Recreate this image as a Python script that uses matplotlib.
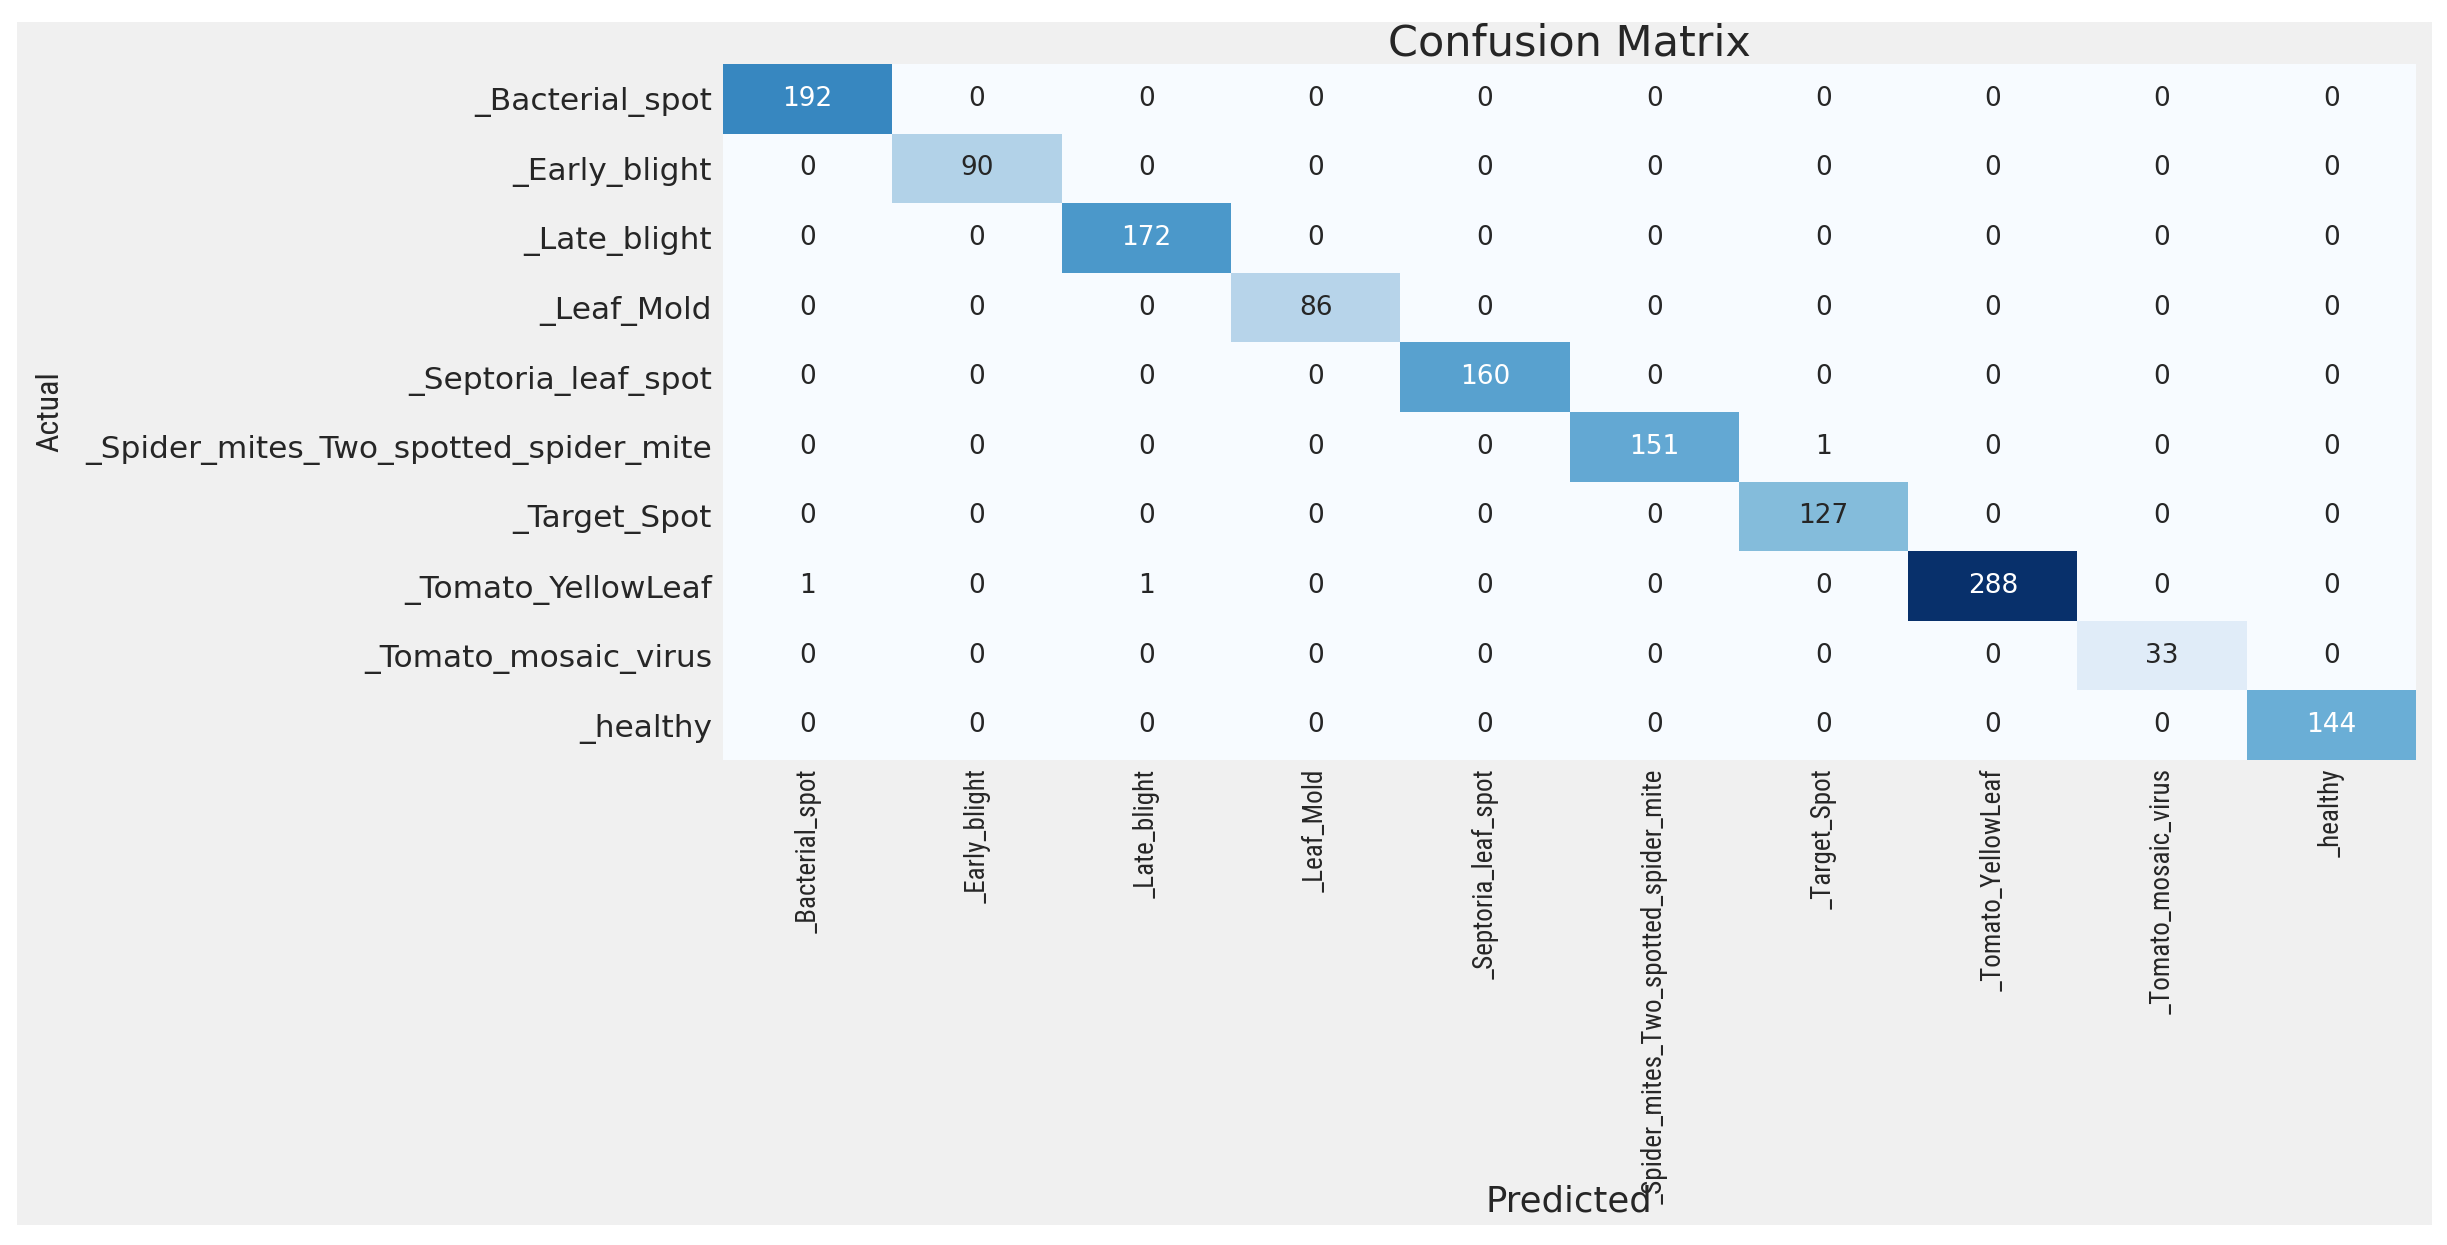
import numpy as np
import matplotlib
matplotlib.use('Agg')
import matplotlib.pyplot as plt
from matplotlib.patches import Rectangle
from matplotlib import colors as mcolors
from matplotlib import font_manager as fm

classes = ['_Bacterial_spot', '_Early_blight', '_Late_blight', '_Leaf_Mold',
           '_Septoria_leaf_spot', '_Spider_mites_Two_spotted_spider_mite',
           '_Target_Spot', '_Tomato_YellowLeaf', '_Tomato_mosaic_virus', '_healthy']

counts = [
    [192, 0, 0, 0, 0, 0, 0, 0, 0, 0],
    [0, 90, 0, 0, 0, 0, 0, 0, 0, 0],
    [0, 0, 172, 0, 0, 0, 0, 0, 0, 0],
    [0, 0, 0, 86, 0, 0, 0, 0, 0, 0],
    [0, 0, 0, 0, 160, 0, 0, 0, 0, 0],
    [0, 0, 0, 0, 0, 151, 1, 0, 0, 0],
    [0, 0, 0, 0, 0, 0, 127, 0, 0, 0],
    [1, 0, 1, 0, 0, 0, 0, 288, 0, 0],
    [0, 0, 0, 0, 0, 0, 0, 0, 33, 0],
    [0, 0, 0, 0, 0, 0, 0, 0, 0, 144],
]

title = 'Confusion Matrix'
xlabel = 'Predicted'
ylabel = 'Actual'

# look for an installed narrow / condensed sans font
narrow = None
cands = []
for f in fm.fontManager.ttflist:
    nm = (f.name + ' ' + str(f.fname)).lower()
    st = str(f.stretch).lower()
    if ('narrow' in nm or 'condensed' in nm or 'condensed' in st) and 'italic' not in nm \
            and 'oblique' not in nm and 'bold' not in nm and f.style == 'normal' and f.weight in (400, 'normal'):
        cands.append(f)
pref = ['liberation sans narrow', 'roboto condensed', 'open sans condensed', 'noto sans condensed', 'dejavu']
for p in pref:
    for f in cands:
        if p in (f.name + ' ' + str(f.fname)).lower():
            narrow = f.fname
            break
    if narrow:
        break
if narrow is None and cands:
    narrow = cands[0].fname

def nfont(size):
    if narrow:
        return fm.FontProperties(fname=narrow, size=size)
    return fm.FontProperties(family='DejaVu Sans', size=size)

cm = np.array(counts)
W, H = 2447, 1245
fig = plt.figure(figsize=(W / 100, H / 100), dpi=100, facecolor='white')

# grey panel behind everything
fig.patches.append(Rectangle((17 / W, 1 - 1225 / H), (2432 - 17) / W, (1225 - 22) / H,
                             transform=fig.transFigure, facecolor='#f0f0f0',
                             edgecolor='none', zorder=-5))

ax = fig.add_axes([723 / W, 1 - 760 / H, (2416 - 723) / W, (760 - 64) / H], zorder=2)
ax.set_facecolor('none')
cmap = plt.get_cmap('Blues')
norm = mcolors.Normalize(vmin=cm.min(), vmax=cm.max())
n = len(classes)
ax.pcolormesh(np.arange(n + 1), np.arange(n + 1), cm, cmap=cmap, norm=norm)
ax.set_xlim(0, n)
ax.set_ylim(n, 0)

for i in range(n):
    for j in range(n):
        rgba = cmap(norm(cm[i, j]))
        r, g, b = [c / 12.92 if c <= 0.03928 else ((c + 0.055) / 1.055) ** 2.4 for c in rgba[:3]]
        lum = 0.2126 * r + 0.7152 * g + 0.0722 * b
        col = 'white' if lum <= 0.408 else '#262626'
        ax.text(j + 0.5, i + 0.5, str(cm[i, j]), ha='center', va='center',
                fontsize=19, color=col, family='DejaVu Sans')

for s in ax.spines.values():
    s.set_visible(False)
ax.set_xticks(np.arange(n) + 0.5)
ax.set_yticks(np.arange(n) + 0.5)
ax.set_xticklabels(classes, rotation=90, color='#262626', fontproperties=nfont(19.5))
ax.set_yticklabels(classes, fontsize=22.5, color='#262626', family='DejaVu Sans')
ax.tick_params(axis='y', length=0, pad=8)
ax.tick_params(axis='x', length=0, pad=6)

ax.set_title(title, fontsize=31, color='#262626', pad=4, family='DejaVu Sans')
fig.text(1569 / W, 1 - 1201 / H, xlabel, ha='center', va='center', fontsize=25.5,
         color='#262626', family='DejaVu Sans')
fig.text(50 / W, 1 - 412 / H, ylabel, ha='center', va='center', rotation=90,
         color='#262626', fontproperties=nfont(23))

fig.savefig('out.png', dpi=100, facecolor='white')
